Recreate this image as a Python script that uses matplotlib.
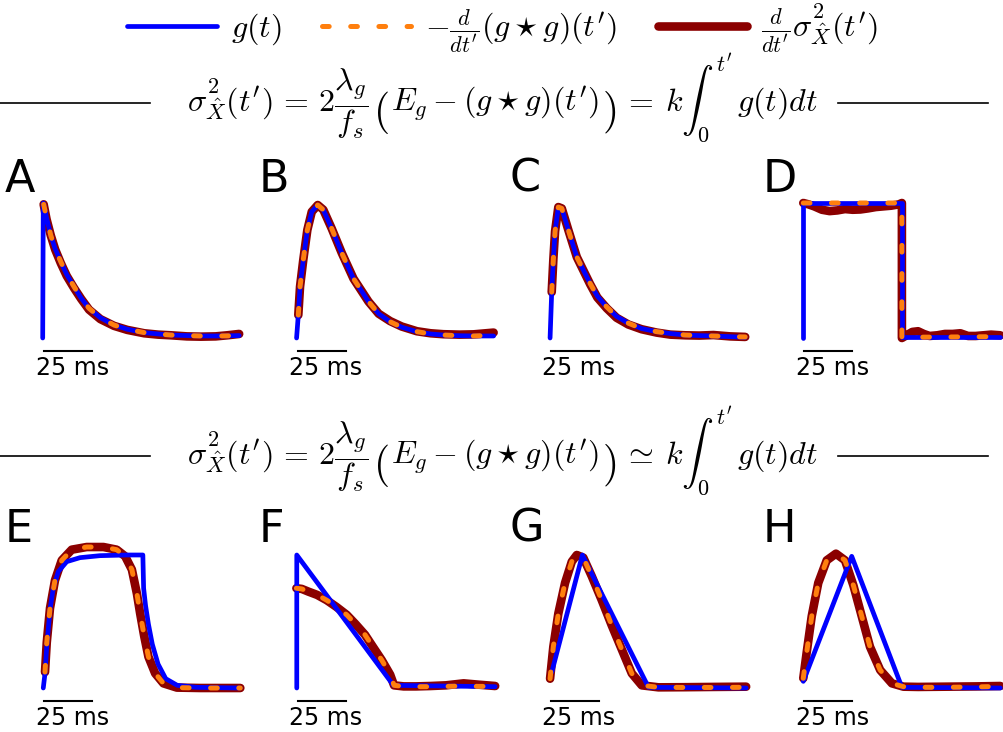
import matplotlib.pyplot as plt
from matplotlib.lines import Line2D

plt.rcParams['mathtext.fontset'] = 'cm'
plt.rcParams['font.family'] = 'DejaVu Sans'

# ---- data (t in ms, values normalised to the peak of g) ----
letters = ['A', 'B', 'C', 'D', 'E', 'F', 'G', 'H']

# A
g_t_A = [0, 0.3, 0.7, 2, 4.2, 6.5, 9.4, 12.5, 16.3, 20, 24.1, 30, 37.1, 44, 52.8, 60, 66.7, 75, 82.3, 90, 96, 102.2]
g_A = [0, 1.0, 0.985, 0.89, 0.76, 0.66, 0.565, 0.47, 0.38, 0.295, 0.22, 0.15, 0.096, 0.065, 0.04, 0.03, 0.022, 0.018, 0.015, 0.015, 0.016, 0.018]
s_t_A = [0.5, 2, 4.2, 6.5, 9.4, 12.5, 16.3, 20, 24.1, 30, 37.1, 44, 52.8, 60, 66.7, 75, 82.3, 90, 96, 102.2]
conv_A = [0.99, 0.89, 0.76, 0.66, 0.565, 0.47, 0.38, 0.295, 0.22, 0.15, 0.096, 0.065, 0.04, 0.03, 0.022, 0.018, 0.015, 0.015, 0.016, 0.02]
var_A = [0.99, 0.88, 0.76, 0.655, 0.555, 0.46, 0.37, 0.29, 0.21, 0.14, 0.09, 0.06, 0.035, 0.025, 0.02, 0.012, 0.01, 0.012, 0.02, 0.03]

# B
g_t_B = [0.3, 1.2, 2.1, 3.8, 5.9, 8.2, 11.3, 14.2, 18.6, 23.8, 29.9, 37.7, 43, 49, 55, 62.9, 70, 76.7, 85, 92.3, 102.8]
g_B = [0, 0.17, 0.38, 0.58, 0.80, 0.935, 0.985, 0.95, 0.81, 0.63, 0.44, 0.27, 0.18, 0.12, 0.08, 0.047, 0.03, 0.022, 0.017, 0.015, 0.015]
s_t_B = [1.2, 2.1, 3.8, 5.9, 8.2, 11.3, 14.2, 18.6, 23.8, 29.9, 37.7, 43, 49, 55, 62.9, 70, 76.7, 85, 92.3, 102.8]
conv_B = [0.17, 0.38, 0.58, 0.80, 0.935, 0.985, 0.95, 0.81, 0.63, 0.44, 0.27, 0.18, 0.12, 0.08, 0.047, 0.03, 0.022, 0.017, 0.015, 0.02]
var_B = [0.17, 0.38, 0.58, 0.80, 0.935, 0.985, 0.95, 0.81, 0.63, 0.44, 0.27, 0.18, 0.125, 0.085, 0.05, 0.035, 0.028, 0.025, 0.027, 0.04]

# C
g_t_C = [0.4, 1.25, 2.1, 3.0, 4.7, 6.5, 9.9, 14.3, 21.2, 25, 29.9, 35, 41.1, 48, 55.9, 63, 70.7, 78, 85.4, 94, 101.9]
g_C = [0, 0.34, 0.58, 0.79, 0.97, 0.96, 0.80, 0.60, 0.405, 0.31, 0.23, 0.16, 0.11, 0.07, 0.047, 0.033, 0.022, 0.018, 0.015, 0.01, 0.005]
s_t_C = [1.25, 2.1, 3.0, 4.7, 6.5, 9.9, 14.3, 21.2, 25, 29.9, 35, 41.1, 48, 55.9, 63, 70.7, 78, 85.4, 94, 101.9]
conv_C = [0.34, 0.58, 0.79, 0.97, 0.96, 0.80, 0.60, 0.405, 0.31, 0.23, 0.16, 0.11, 0.07, 0.047, 0.033, 0.022, 0.018, 0.015, 0.01, 0.008]
var_C = [0.34, 0.58, 0.79, 0.97, 0.96, 0.80, 0.60, 0.40, 0.30, 0.22, 0.15, 0.10, 0.065, 0.04, 0.025, 0.02, 0.018, 0.022, 0.012, 0.008]

# D
g_t_D = [0, 0, 51.6, 51.6, 102.8]
g_D = [0, 1.0, 1.0, 0.01, 0.01]
s_t_D = [0.3, 51.6, 51.6, 102.8]
conv_D = [1.0, 1.0, 0.005, 0.01]
var_t_D = [0.3, 3, 6, 10, 14, 18, 22, 26, 30, 34, 38, 42, 46, 50, 51.6, 51.6, 54, 57, 60, 63, 66, 70, 74, 78, 82, 86, 90, 94, 98, 102.8]
var_D = [1.0, 0.99, 0.975, 0.95, 0.94, 0.945, 0.955, 0.95, 0.952, 0.96, 0.97, 0.975, 0.98, 0.99, 1.0,
         0.0, 0.02, 0.045, 0.05, 0.03, 0.015, 0.02, 0.03, 0.03, 0.035, 0.015, 0.015, 0.02, 0.025, 0.02]

# E
g_t_E = [0.3, 1.2, 2.1, 3.8, 5.5, 8.1, 12.5, 19.4, 29.8, 43.7, 52.1, 52.5, 53.5, 55, 57, 60, 64, 70, 80, 102.8]
g_E = [0, 0.11, 0.31, 0.59, 0.75, 0.875, 0.95, 0.98, 0.995, 1.0, 1.0, 0.75, 0.62, 0.48, 0.33, 0.18, 0.07, 0.02, 0.005, 0.0]
s_t_E = [1.2, 2.1, 3.8, 6.4, 9.9, 15.1, 22.9, 31.6, 38.5, 42.9, 46.4, 49, 50.7, 52.8, 55, 58.5, 62.8, 69.8, 81.9, 102.8]
conv_E = [0.12, 0.34, 0.60, 0.81, 0.96, 1.04, 1.06, 1.06, 1.04, 0.99, 0.89, 0.71, 0.56, 0.39, 0.235, 0.11, 0.035, 0.003, 0.0, 0.0]
var_E = [0.12, 0.34, 0.60, 0.81, 0.96, 1.04, 1.06, 1.06, 1.04, 0.99, 0.89, 0.71, 0.56, 0.39, 0.235, 0.11, 0.035, 0.003, 0.0, 0.0]

# F
g_t_F = [0.4, 0.4, 50.7, 103.6]
g_F = [0, 1.0, 0.02, 0.01]
s_t_F = [0.2, 3, 6.4, 11, 16, 21, 26.4, 31, 35.9, 40, 44.6, 49, 51, 56, 62.4, 70, 78, 87.2, 95, 103.6]
conv_F = [0.75, 0.745, 0.725, 0.70, 0.66, 0.61, 0.55, 0.48, 0.40, 0.31, 0.21, 0.10, 0.02, 0.012, 0.01, 0.01, 0.012, 0.015, 0.012, 0.012]
var_F = [0.75, 0.745, 0.725, 0.70, 0.66, 0.61, 0.55, 0.48, 0.40, 0.31, 0.21, 0.10, 0.02, 0.012, 0.012, 0.015, 0.02, 0.035, 0.025, 0.015]

# G
g_t_G = [1.3, 17.2, 51.6, 102.4]
g_G = [0.12, 1.0, 0.005, 0.0]
s_t_G = [0.4, 2.1, 4.7, 8.2, 11.7, 14.3, 17.7, 22.1, 27.3, 32.5, 37.7, 42.9, 48.1, 56.8, 70, 85, 102.4]
conv_G = [0.07, 0.31, 0.56, 0.79, 0.95, 1.0, 0.98, 0.84, 0.66, 0.47, 0.29, 0.11, 0.02, 0.005, 0.004, 0.004, 0.005]
var_G = [0.07, 0.31, 0.56, 0.79, 0.95, 1.0, 0.98, 0.84, 0.66, 0.47, 0.29, 0.11, 0.02, 0.005, 0.006, 0.008, 0.01]

# H
g_t_H = [0.3, 25.5, 51.6, 102.8]
g_H = [0.05, 0.99, 0.005, 0.0]
s_t_H = [0.3, 2.1, 4.7, 8.1, 12.5, 17.3, 22, 26.4, 30.7, 35, 40.3, 46.4, 52.4, 60, 75, 90, 102.8]
conv_H = [0.073, 0.27, 0.54, 0.79, 0.96, 1.01, 0.96, 0.77, 0.54, 0.31, 0.135, 0.035, 0.01, 0.005, 0.005, 0.008, 0.012]
var_H = [0.073, 0.27, 0.54, 0.79, 0.96, 1.01, 0.96, 0.77, 0.54, 0.31, 0.135, 0.035, 0.01, 0.008, 0.01, 0.012, 0.015]

g_times = [g_t_A, g_t_B, g_t_C, g_t_D, g_t_E, g_t_F, g_t_G, g_t_H]
g_vals = [g_A, g_B, g_C, g_D, g_E, g_F, g_G, g_H]
s_times = [s_t_A, s_t_B, s_t_C, s_t_D, s_t_E, s_t_F, s_t_G, s_t_H]
conv_vals = [conv_A, conv_B, conv_C, conv_D, conv_E, conv_F, conv_G, conv_H]
var_times = [s_t_A, s_t_B, s_t_C, var_t_D, s_t_E, s_t_F, s_t_G, s_t_H]
var_vals = [var_A, var_B, var_C, var_D, var_E, var_F, var_G, var_H]

scalebar_ms = 25

# equation pieces (the big brackets are drawn separately)
eq_left = r"$\sigma^2_{\hat{X}}(t')\,=\,2\dfrac{\lambda_g}{f_s}$"
eq_mid = r"$E_g - (g\star g)(t')$"
eq_right_exact = r"$=\:k\int_0^{t'}\, g(t)dt$"
eq_right_approx = r"$\simeq\:k\int_0^{t'}\, g(t)dt$"

lab_g = r"$g(t)$"
lab_conv = r"$-\frac{d}{dt'}(g\star g)(t')$"
lab_var = r"$\frac{d}{dt'}\sigma^2_{\hat{X}}(t')$"

BLUE = '#0000ff'
ORANGE = '#ff7f0e'
RED = '#8b0000'

W, H = 1004, 732
fig = plt.figure(figsize=(W / 100, H / 100), dpi=100)
renderer = fig.canvas.get_renderer()


def px_axes(left, top, width, height):
    return fig.add_axes([left / W, 1 - (top + height) / H, width / W, height / H])


def put(s, x, ybase, size):
    t = fig.text(x / W, 1 - ybase / H, s, fontsize=size, ha='left', va='baseline')
    return t.get_window_extent(renderer).x1


# rows: (pixel of value 0, pixel of value 1, letter baseline)
rows = [(338, 203, 192), (688, 555, 542)]
col_left = [42.7, 296.0, 549.3, 802.7]
letter_x = [5, 259, 510, 763]

red_kw = dict(color=RED, lw=6.2, solid_capstyle='round', solid_joinstyle='round')
blue_kw = dict(color=BLUE, lw=3.4, solid_capstyle='round', solid_joinstyle='round')
orange_kw = dict(color=ORANGE, lw=3.6, ls=(0, (1.34, 4.3)), dash_capstyle='round',
                 dash_joinstyle='round')

for i, let in enumerate(letters):
    r, c = divmod(i, 4)
    y0, y1, ybase = rows[r]
    ax = px_axes(col_left[c], y1, 198, y0 - y1)
    ax.set_xlim(0, 103)
    ax.set_ylim(0, 1)
    ax.axis('off')

    ax.plot(var_times[i], var_vals[i], clip_on=False, zorder=1, **red_kw)
    ax.plot(g_times[i], g_vals[i], clip_on=False, zorder=2, **blue_kw)
    ax.plot(s_times[i], conv_vals[i], clip_on=False, zorder=3, **orange_kw)

    # scale bar
    yb = -13.0 / (y0 - y1)
    ax.plot([0.85, 0.85 + scalebar_ms], [yb, yb], color='k', lw=1.5, clip_on=False)
    ax.text(0.85 + scalebar_ms / 2 + 2, yb - 5.0 / (y0 - y1), f'{scalebar_ms} ms',
            ha='center', va='top', fontsize=17)

    fig.text(letter_x[c] / W, 1 - ybase / H, let, fontsize=32, va='baseline', ha='left')

# equations with side rules
for eq_right, yb in [(eq_right_exact, 112), (eq_right_approx, 465)]:
    x = put(eq_left, 187, yb, 23)
    x = put('$($', x + 5, yb + 11, 30)
    x = put(eq_mid, x + 2, yb, 23)
    x = put('$)$', x + 3, yb + 11, 30)
    put(eq_right, x + 7, yb, 23)
    for x0, x1 in [(0, 150), (838, 988)]:
        fig.add_artist(Line2D([x0 / W, x1 / W], [1 - (yb - 9) / H] * 2,
                              transform=fig.transFigure, color='k', lw=1.2))

handles = [
    Line2D([], [], **blue_kw),
    Line2D([], [], **orange_kw),
    Line2D([], [], **red_kw),
]
fig.legend(handles, [lab_g, lab_conv, lab_var], loc='center', bbox_to_anchor=(503 / W, 1 - 29 / H),
           ncol=3, frameon=False, fontsize=23, handlelength=2.8, handletextpad=0.45,
           columnspacing=1.25)

fig.savefig('out.png', dpi=100)
